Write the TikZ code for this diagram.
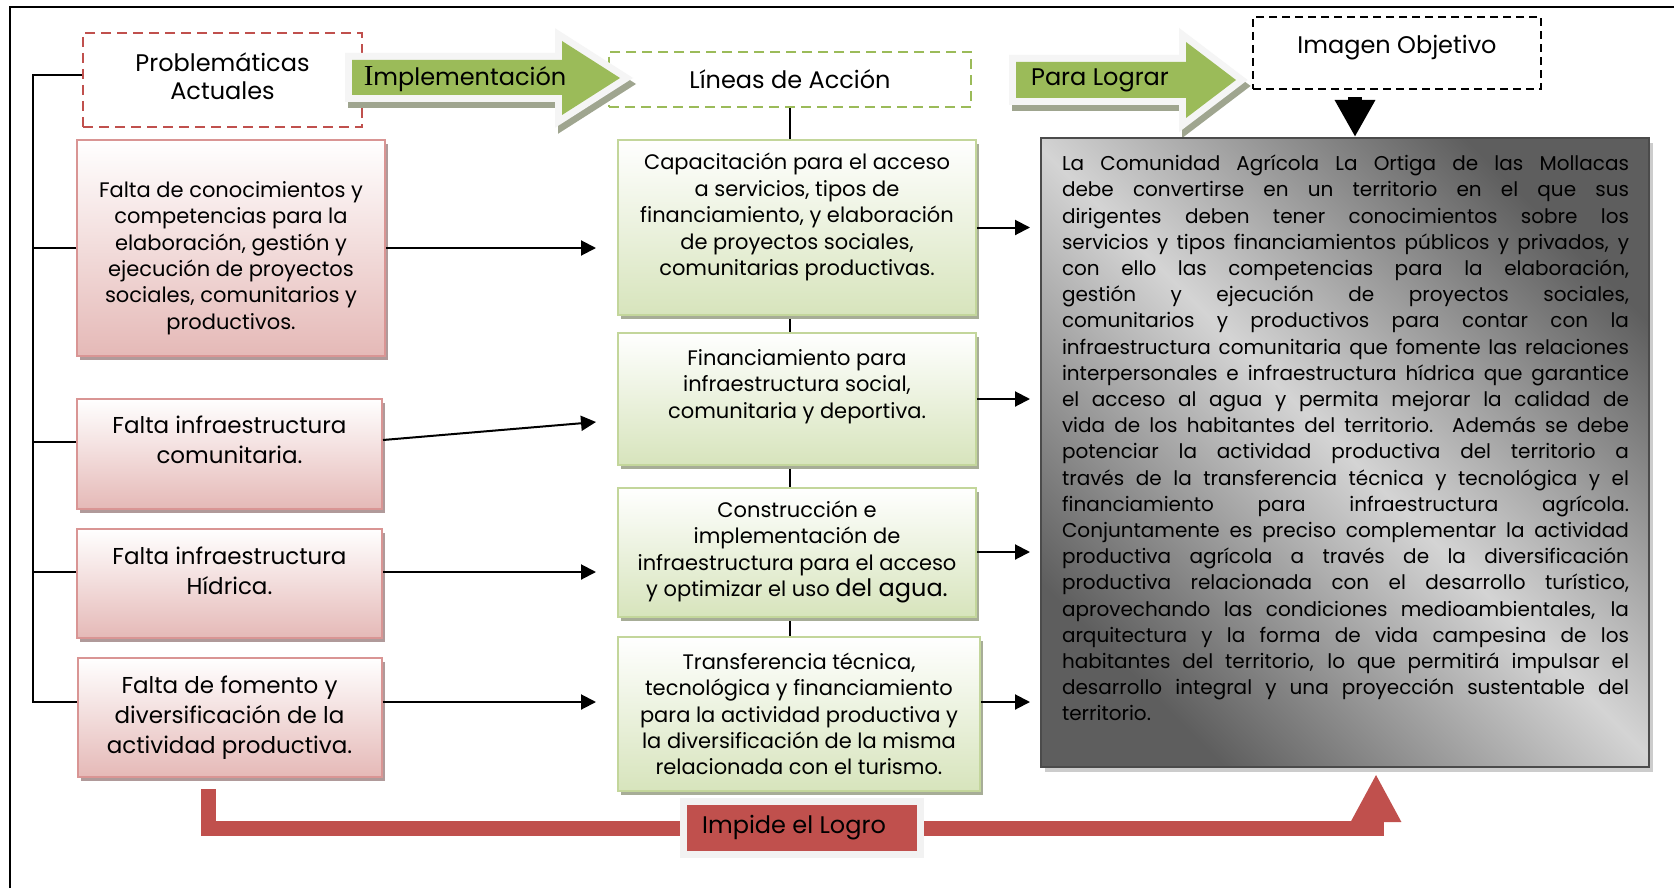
\documentclass[tikz,border=0pt]{standalone}
\usepackage{fontspec}
\setmainfont{Poppins}
\newfontfamily\serifI{Liberation Serif}
\usetikzlibrary{positioning,arrows.meta,shadows,backgrounds}
\definecolor{rline}{HTML}{D99594}
\definecolor{rfill}{HTML}{E5B9B7}
\definecolor{rshade}{HTML}{B09A9A}
\definecolor{gline}{HTML}{C3D69B}
\definecolor{gfill}{HTML}{D7E4BC}
\definecolor{gshade}{HTML}{A7AD97}
\definecolor{accred}{HTML}{C0504D}
\definecolor{accgreen}{HTML}{9BBB59}
\definecolor{arrshade}{HTML}{9FA58F}
\definecolor{objdark}{HTML}{5E5E5E}
\definecolor{objlight}{HTML}{D4D4D4}

\begin{document}
\begin{tikzpicture}[x=0.5pt,y=-0.5pt,
  every node/.style={inner sep=0pt,text=black},
  redbox/.style={draw=rline,line width=1pt,top color=white,bottom color=rfill,align=center,
    font=\fontsize{11.5}{15}\selectfont,
    drop shadow={shadow xshift=1.5pt,shadow yshift=-2pt,fill=rshade,opacity=1}},
  grnbox/.style={draw=gline,line width=1pt,top color=white,bottom color=gfill,align=center,
    font=\fontsize{10.5}{13.2}\selectfont,
    drop shadow={shadow xshift=1.5pt,shadow yshift=-2pt,fill=gshade,opacity=1}},
  headbox/.style={line width=1.2pt,dash pattern=on 5pt off 3pt,align=center,
    font=\fontsize{12}{14}\selectfont},
  objbox/.style={draw=objdark!80!black,line width=1pt,left color=objdark,right color=objdark,
    middle color=objlight,shading angle=-45,
    drop shadow={shadow xshift=2pt,shadow yshift=-2.5pt,fill=gray!40,opacity=1}},
  bigarrow/.style={fill=accgreen,line join=miter,
    preaction={draw=arrshade,fill=arrshade,line width=7pt,transform canvas={xshift=1.5pt,yshift=-3pt}},
    preaction={draw=gray!8,line width=7pt}},
  conn/.style={-{Triangle[length=7.5pt,width=7.5pt]},line width=1pt},
  bus/.style={line width=0.7pt},
  redarrow/.style={draw=accred,line width=7.5pt}
]
  \useasboundingbox (0,0) rectangle (1674,888);
  \begin{pgfonlayer}{background}
    \fill[white] (0,0) rectangle (1674,888);
  \end{pgfonlayer}
  % frame
  \draw[line width=1pt] (10,888) -- (10,7) -- (1674,7);

  % headers
  \node[headbox,draw=accred,minimum width=139.5pt,minimum height=47pt,text depth=4pt] (prob) at (222.5,80) {Problemáticas\\Actuales};
  \node[headbox,draw=accgreen,minimum width=181pt,minimum height=27.5pt] (lin) at (790,79.5) {Líneas de Acción};
  \node[headbox,draw=black,dash pattern=on 4pt off 2.5pt,minimum width=144pt,minimum height=36pt,text depth=8.5pt] (img) at (1397,53) {Imagen Objetivo};

  % green block arrows
  \path[bigarrow] (352,60) -- (562,60) -- (562,41) -- (620,78) -- (562,115) -- (562,95) -- (352,95) -- cycle;
  \node[font=\fontsize{12}{14}\selectfont] (impl) at (465,79) {{\serifI\fontsize{14.5}{14}\selectfont I}mplementación};
  \path[bigarrow] (1016,62) -- (1186,62) -- (1186,42) -- (1236,80) -- (1186,118) -- (1186,98) -- (1016,98) -- cycle;
  \node[font=\fontsize{12}{14}\selectfont] (lograr) at (1100,80) {Para Lograr};

  % problematicas
  \node[redbox,minimum width=154pt,minimum height=108pt,font=\fontsize{10.5}{13.2}\selectfont] (p1) at (231,248)
    {\rule{0pt}{18pt}Falta de conocimientos y\\competencias para la\\elaboración, gestión y\\ejecución de proyectos\\sociales, comunitarios y\\productivos.};
  \node[redbox,minimum width=152.5pt,minimum height=55pt,text depth=14pt] (p2) at (229.5,454)
    {Falta infraestructura\\comunitaria.};
  \node[redbox,minimum width=152.5pt,minimum height=54.5pt,text depth=13pt] (p3) at (229.5,583.5)
    {Falta infraestructura\\Hídrica.};
  \node[redbox,minimum width=152pt,minimum height=59.5pt] (p4) at (229.5,717.5)
    {Falta de fomento y\\diversificación de la\\actividad productiva.};

  % lineas de accion
  \node[grnbox,minimum width=179pt,minimum height=87.5pt,text depth=13pt] (g1) at (797,227.5)
    {Capacitación para el acceso\\a servicios, tipos de\\financiamiento, y elaboración\\de proyectos sociales,\\comunitarias productivas.};
  \node[grnbox,minimum width=179pt,minimum height=66pt,text depth=15pt] (g2) at (797,399)
    {Financiamiento para\\infraestructura social,\\comunitaria y deportiva.};
  \node[grnbox,minimum width=179pt,minimum height=64.5pt] (g3) at (797,552)
    {Construcción e\\implementación de\\infraestructura para el acceso\\y optimizar el uso {\fontsize{12}{13}\selectfont del agua.}};
  \node[grnbox,minimum width=181pt,minimum height=77pt] (g4) at (799,714)
    {Transferencia técnica,\\tecnológica y financiamiento\\para la actividad productiva y\\la diversificación de la misma\\relacionada con el turismo.};

  % imagen objetivo
  \node[objbox,minimum width=304pt,minimum height=314.5pt] (obj) at (1345,452.5) {};
  \node[text width=283.5pt,align=justify,font=\fontsize{10}{13.1}\selectfont] (objtxt) at (1345.5,438)
    {\noindent La Comunidad Agrícola La Ortiga de las Mollacas\linebreak
     debe convertirse en un territorio en el que sus\linebreak
     dirigentes deben tener conocimientos sobre los\linebreak
     servicios y tipos financiamientos públicos y privados, y\linebreak
     con ello las competencias para la elaboración,\linebreak
     gestión y ejecución de proyectos sociales,\linebreak
     comunitarios y productivos para contar con la\linebreak
     infraestructura comunitaria que fomente las relaciones\linebreak
     interpersonales e infraestructura hídrica que garantice\linebreak
     el acceso al agua y permita mejorar la calidad de\linebreak
     vida de los habitantes del territorio. Además se debe\linebreak
     potenciar la actividad productiva del territorio a\linebreak
     través de la transferencia técnica y tecnológica y el\linebreak
     financiamiento para infraestructura agrícola.\linebreak
     Conjuntamente es preciso complementar la actividad\linebreak
     productiva agrícola a través de la diversificación\linebreak
     productiva relacionada con el desarrollo turístico,\linebreak
     aprovechando las condiciones medioambientales, la\linebreak
     arquitectura y la forma de vida campesina de los\linebreak
     habitantes del territorio, lo que permitirá impulsar el\linebreak
     desarrollo integral y una proyección sustentable del\linebreak
     territorio.};

  % impide el logro
  \node[draw=gray!10,line width=3.5pt,fill=accred,minimum width=118.5pt,minimum height=26.5pt,
    font=\fontsize{12}{14}\selectfont,
    drop shadow={shadow xshift=1.5pt,shadow yshift=-1.5pt,fill=rshade,opacity=1}] (imp) at (802,828)
    {Impide el Logro\hspace*{8pt}};

  % attachment points
  \coordinate (bus) at (33,702);
  \coordinate (ein) at (596,0);
  \coordinate (eout) at (1030,0);
  \coordinate (e2) at (596,422);
  \coordinate (p2a) at ([yshift=6pt]p2.west);
  \coordinate (p3a) at ([yshift=5.75pt]p3.west);
  \coordinate (p4a) at ([yshift=7.75pt]p4.west);
  \coordinate (p2b) at ([yshift=7pt]p2.east);
  \coordinate (p3b) at ([yshift=5.75pt]p3.east);
  \coordinate (p4b) at ([yshift=7.75pt]p4.east);
  \coordinate (g4b) at ([yshift=6pt]g4.east);
  \coordinate (idown) at (1355,0);
  \coordinate (rs) at (208,789);
  \coordinate (rt) at (1376,774);

  % left bracket
  \draw[bus] ([yshift=2.5pt]prob.west) -| (bus) -- (p4a);
  \draw[bus] (p1.west) -- (p1.west -| bus);
  \draw[bus] (p2a) -- (p2a -| bus);
  \draw[bus] (p3a) -- (p3a -| bus);

  % problems to lines of action
  \draw[conn] (p1.east) -- (p1.east -| ein);
  \draw[conn] (p2b) -- (e2);
  \draw[conn] (p3b) -- (p3b -| ein);
  \draw[conn] (p4b) -- (p4b -| ein);

  % lines of action to objective
  \draw[conn] (g1.east) -- (g1.east -| eout);
  \draw[conn] (g2.east) -- (g2.east -| eout);
  \draw[conn] (g3.east) -- (g3.east -| eout);
  \draw[conn] (g4b) -- (g4b -| eout);

  \draw[line width=7pt,-{Triangle[width=19pt,length=18.5pt]},shorten <=3.5pt] (idown |- img.south) -- (idown |- obj.north);

  \begin{pgfonlayer}{background}
    \draw[bus] (lin.south) -- (lin.south |- g4.north);
    \draw[redarrow] (rs) |- (imp.west);
    \draw[redarrow,-{Triangle[width=23.5pt,length=24pt]}] (imp.east) -| (rt);
  \end{pgfonlayer}
\end{tikzpicture}
\end{document}
